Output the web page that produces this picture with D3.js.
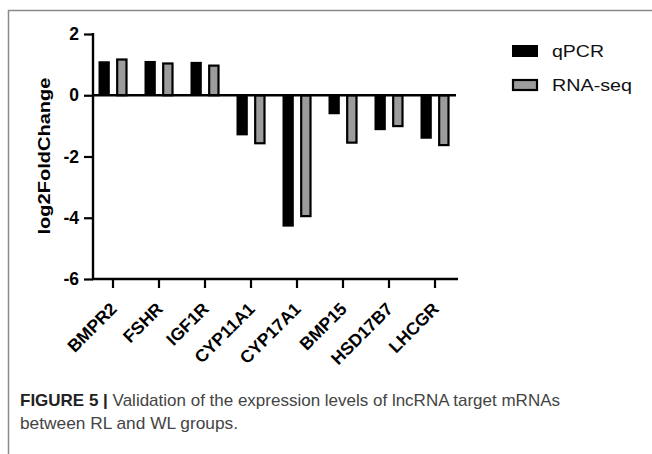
<!DOCTYPE html>
<html>
<head>
<meta charset="utf-8">
<script src="https://cdn.jsdelivr.net/npm/d3@7"></script>
<style>
  html, body { margin: 0; padding: 0; background: #fff; }
  svg { display: block; }
</style>
</head>
<body>
<svg id="chart" width="652" height="454"></svg>
<script>
// Genes validated by qPCR vs RNA-seq (log2 fold change)
const genes = ["BMPR2", "FSHR", "IGF1R", "CYP11A1", "CYP17A1", "BMP15", "HSD17B7", "LHCGR"];
const qpcrValues = [1.11, 1.12, 1.09, -1.31, -4.29, -0.62, -1.14, -1.42];
const rnaseqValues = [1.20, 1.07, 1.00, -1.60, -3.98, -1.58, -1.04, -1.66];
const seriesNames = ["qPCR", "RNA-seq"];
const yTicks = [2, 0, -2, -4, -6];
const captionBold = "FIGURE 5 |";
const captionLine1 = " Validation of the expression levels of lncRNA target mRNAs";
const captionLine2 = "between RL and WL groups.";

const svg = d3.select("#chart");
const font = "Arial, 'Liberation Sans', Helvetica, sans-serif";

// Panel frame
svg.append("path")
  .attr("d", "M8.5,454 V10.5 H652")
  .attr("fill", "none")
  .attr("stroke", "#8a8a8a")
  .attr("stroke-width", 1.5);

const plotLeft = 93, plotRight = 458;
const y = d3.scaleLinear().domain([-6, 2]).range([279, 34]);
const x = d3.scaleBand().domain(genes).range([90, 458]).paddingInner(0).paddingOuter(0);
const xs = d3.scaleBand().domain(seriesNames).range([-14.5, 14.5]).paddingInner(0.36);

const colors = { "qPCR": "#000000", "RNA-seq": "#9c9c9c" };
const seriesData = { "qPCR": qpcrValues, "RNA-seq": rnaseqValues };

// Bars
seriesNames.forEach(s => {
  const outlined = s !== "qPCR";
  svg.append("g")
    .selectAll("rect")
    .data(genes.map((gname, i) => ({ gene: gname, v: seriesData[s][i] })))
    .join("rect")
    .attr("x", d => x(d.gene) + x.bandwidth() / 2 + xs(s) + (outlined ? 1 : 0))
    .attr("width", xs.bandwidth() - (outlined ? 2 : 0))
    .attr("y", d => Math.min(y(d.v), y(0)) + (outlined && d.v > 0 ? 1 : 0))
    .attr("height", d => Math.abs(y(d.v) - y(0)) - (outlined ? 1 : 0))
    .attr("fill", colors[s])
    .attr("stroke", outlined ? "#000" : "none")
    .attr("stroke-width", 2.2);
});

// Zero line
svg.append("line")
  .attr("x1", plotLeft).attr("x2", plotRight - 2)
  .attr("y1", y(0)).attr("y2", y(0))
  .attr("stroke", "#000").attr("stroke-width", 2.4);

// Y axis
const yAxis = d3.axisLeft(y).tickValues(yTicks).tickSize(9).tickPadding(4).tickFormat(d3.format("d"));
const yg = svg.append("g").attr("transform", `translate(${plotLeft},0)`).call(yAxis);
yg.select(".domain").remove();
yg.append("line").attr("x1", 0).attr("x2", 0).attr("y1", y(2) - 1).attr("y2", y(-6) + 1)
  .attr("stroke", "#000").attr("stroke-width", 2.4);
yg.selectAll(".tick line").attr("stroke", "#000").attr("stroke-width", 2.2);
yg.selectAll(".tick text")
  .attr("font-family", font).attr("font-weight", "bold").attr("font-size", 17.5)
  .attr("fill", "#000")
  .attr("transform", "translate(-1,0)")
  .text(d => d < 0 ? "-" + Math.abs(d) : d);

// X axis
const xAxis = d3.axisBottom(x).tickSize(9).tickSizeOuter(0).tickFormat(d => d);
const xg = svg.append("g").attr("transform", `translate(0,${y(-6)})`).call(xAxis);
xg.select(".domain").remove();
xg.append("line").attr("x1", plotLeft - 1).attr("x2", plotRight).attr("y1", 0).attr("y2", 0)
  .attr("stroke", "#000").attr("stroke-width", 2.4);
xg.selectAll(".tick line").attr("stroke", "#000").attr("stroke-width", 2.2);
xg.selectAll(".tick text")
  .attr("font-family", font).attr("font-weight", "bold").attr("font-size", 17.5)
  .attr("fill", "#000")
  .attr("text-anchor", "end")
  .attr("dy", null)
  .attr("y", 0)
  .attr("transform", "translate(5,31) rotate(-45)");

// Y axis title
svg.append("text")
  .attr("transform", `translate(50,156) rotate(-90)`)
  .attr("text-anchor", "middle")
  .attr("font-family", font).attr("font-weight", "bold").attr("font-size", 17)
  .attr("textLength", 157).attr("lengthAdjust", "spacingAndGlyphs")
  .attr("fill", "#000")
  .text("log2FoldChange");

// Legend
const legendWidths = { "qPCR": 52, "RNA-seq": 80 };
const legend = svg.append("g");
seriesNames.forEach((s, i) => {
  const ly = 45 + i * 34;
  const outlined = s !== "qPCR";
  legend.append("rect")
    .attr("x", outlined ? 513 : 512).attr("y", outlined ? ly + 1 : ly)
    .attr("width", outlined ? 24 : 26).attr("height", outlined ? 10 : 12)
    .attr("fill", colors[s])
    .attr("stroke", outlined ? "#000" : "none")
    .attr("stroke-width", 2.2);
  legend.append("text")
    .attr("x", 552).attr("y", ly + 12)
    .attr("font-family", font).attr("font-size", 17).attr("fill", "#111")
    .attr("textLength", legendWidths[s]).attr("lengthAdjust", "spacingAndGlyphs")
    .text(s);
});

// Caption
const capFont = "'Liberation Sans', Arial, Helvetica, sans-serif";
const cap = svg.append("text")
  .attr("x", 20).attr("y", 406)
  .attr("font-family", capFont).attr("font-size", 17).attr("fill", "#444")
  .attr("textLength", 540).attr("lengthAdjust", "spacingAndGlyphs");
cap.append("tspan").attr("font-weight", "bold").attr("fill", "#222").text(captionBold);
cap.append("tspan").text(captionLine1);
svg.append("text")
  .attr("x", 20).attr("y", 429)
  .attr("font-family", capFont).attr("font-size", 17).attr("fill", "#444")
  .attr("textLength", 218).attr("lengthAdjust", "spacingAndGlyphs")
  .text(captionLine2);
</script>
</body>
</html>
